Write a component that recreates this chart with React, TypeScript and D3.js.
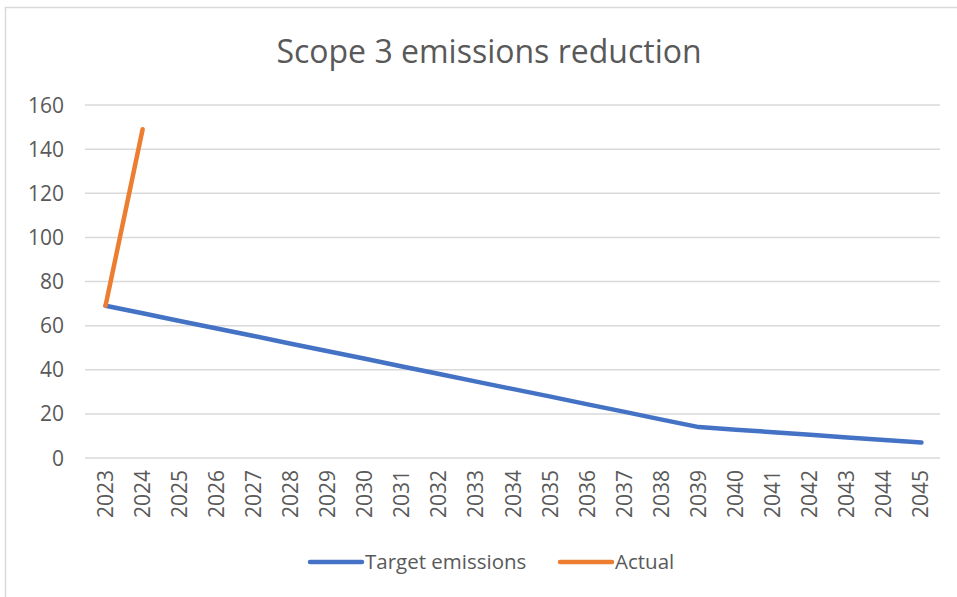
import { useEffect, useRef } from 'react';
import * as d3 from 'd3';

const years = [
  '2023', '2024', '2025', '2026', '2027', '2028', '2029', '2030', '2031', '2032', '2033', '2034',
  '2035', '2036', '2037', '2038', '2039', '2040', '2041', '2042', '2043', '2044', '2045',
];
const targetEmissions = [
  69, 65.6, 62.1, 58.7, 55.3, 51.8, 48.4, 45, 41.5, 38.1, 34.6, 31.2, 27.8, 24.3, 20.9, 17.4, 14,
  12.8, 11.7, 10.5, 9.3, 8.2, 7,
];
const actual = [69, 149];
const yTicks = [0, 20, 40, 60, 80, 100, 120, 140, 160];

const W = 957;
const H = 597;
const FONT = '"Open Sans", sans-serif';
const TEXT = '#595959';

export default function App() {
  const svgRef = useRef<SVGSVGElement>(null);

  useEffect(() => {
    if (!svgRef.current) return;
    const svg = d3.select(svgRef.current);
    svg.selectAll('*').remove();

    const margin = { top: 105, right: 17, bottom: 139, left: 87 };
    const x = d3.scaleBand().domain(years).range([margin.left, W - margin.right]);
    const y = d3.scaleLinear().domain([0, 160]).range([H - margin.bottom, margin.top]);
    const cx = (d: string) => (x(d) || 0) + x.bandwidth() / 2;

    svg.append('rect').attr('width', W).attr('height', H).attr('fill', '#fff');
    // chart frame (left and top edges visible)
    svg.append('path')
      .attr('d', `M5.5,${H}V7.5H${W + 2}`)
      .attr('fill', 'none')
      .attr('stroke', '#d9d9d9')
      .attr('stroke-width', 1.5);

    svg.append('text')
      .attr('x', 489)
      .attr('y', 63)
      .attr('text-anchor', 'middle')
      .style('font-family', FONT)
      .style('font-size', '32px')
      .style('fill', TEXT)
      .text('Scope 3 emissions reduction');

    // gridlines
    svg.append('g')
      .selectAll('line')
      .data(yTicks)
      .join('line')
      .attr('x1', margin.left - 2)
      .attr('x2', W - margin.right)
      .attr('y1', (d) => y(d))
      .attr('y2', (d) => y(d))
      .attr('stroke', '#d9d9d9')
      .attr('stroke-width', 1.5);

    // y labels
    svg.append('g')
      .selectAll('text')
      .data(yTicks)
      .join('text')
      .attr('x', 64)
      .attr('y', (d) => y(d))
      .attr('dy', '0.36em')
      .attr('text-anchor', 'end')
      .style('font-family', FONT)
      .style('font-size', '21px')
      .style('fill', TEXT)
      .text((d) => d);

    // x labels, rotated
    svg.append('g')
      .selectAll('text')
      .data(years)
      .join('text')
      .attr('transform', (d) => `translate(${cx(d) + 7},${y(0) + 12}) rotate(-90)`)
      .attr('text-anchor', 'end')
      .style('font-family', FONT)
      .style('font-size', '21px')
      .style('fill', TEXT)
      .text((d) => d);

    const line = d3.line<number>()
      .x((_, i) => cx(years[i]))
      .y((d) => y(d));

    svg.append('path')
      .datum(targetEmissions)
      .attr('d', line)
      .attr('fill', 'none')
      .attr('stroke', '#4472c4')
      .attr('stroke-width', 4.5)
      .attr('stroke-linejoin', 'round')
      .attr('stroke-linecap', 'round');

    svg.append('path')
      .datum(actual)
      .attr('d', line)
      .attr('fill', 'none')
      .attr('stroke', '#ed7d31')
      .attr('stroke-width', 4.5)
      .attr('stroke-linejoin', 'round')
      .attr('stroke-linecap', 'round');

    // legend
    const legend = [
      { label: 'Target emissions', color: '#4472c4', x: 310 },
      { label: 'Actual', color: '#ed7d31', x: 560 },
    ];
    const lg = svg.append('g').selectAll('g').data(legend).join('g')
      .attr('transform', (d) => `translate(${d.x},562)`);
    lg.append('line')
      .attr('x1', 0)
      .attr('x2', 52)
      .attr('stroke', (d) => d.color)
      .attr('stroke-width', 4.5)
      .attr('stroke-linecap', 'round');
    lg.append('text')
      .attr('x', 55)
      .attr('dy', '0.36em')
      .style('font-family', FONT)
      .style('font-size', '20.5px')
      .style('fill', TEXT)
      .text((d) => d.label);
  }, []);

  return (
    <div style={{ position: 'absolute', left: 0, top: 0 }}>
      <svg ref={svgRef} width={W} height={H} style={{ display: 'block' }}></svg>
    </div>
  );
}
